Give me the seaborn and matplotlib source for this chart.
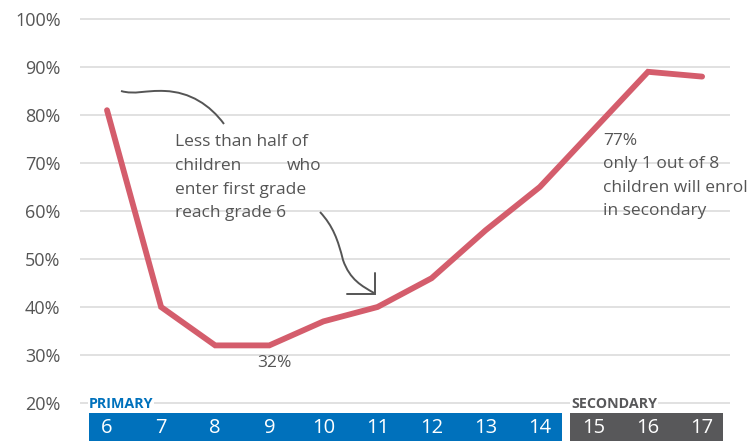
import matplotlib
matplotlib.use("Agg")
import matplotlib.pyplot as plt
import seaborn as sns
import pandas as pd
from matplotlib.path import Path
from matplotlib.patches import PathPatch, Rectangle

# ---- data ----
ages = [6, 7, 8, 9, 10, 11, 12, 13, 14, 15, 16, 17]
rates = [81, 40, 32, 32, 37, 40, 46, 56, 65, 77, 89, 88]
primary_ages = [6, 7, 8, 9, 10, 11, 12, 13, 14]
secondary_ages = [15, 16, 17]
yticks = [20, 30, 40, 50, 60, 70, 80, 90, 100]
ytick_labels = ["20%", "30%", "40%", "50%", "60%", "70%", "80%", "90%", "100%"]

sns.set_theme(style="white")
plt.rcParams['font.family'] = ['Open Sans', 'DejaVu Sans']

W, H = 753, 441
fig = plt.figure(figsize=(W / 100, H / 100), dpi=100)
ax_left, ax_right = 80, 730
ax = fig.add_axes([ax_left / W, 0, (ax_right - ax_left) / W, 1])

# pixel <-> data mapping helpers
X0, DX = 107, 54.1
Y0, DY = 403, 4.8
def px(x):
    return 6 + (x - X0) / DX
def py(y):
    return 20 + (Y0 - y) / DY

ax.set_xlim(px(ax_left), px(ax_right))
ax.set_ylim(py(H), py(0))

# gridlines
for t in yticks:
    ax.axhline(t, color="#dcdcdc", lw=1.2, zorder=0)

df = pd.DataFrame({"age": ages, "rate": rates})
sns.lineplot(data=df, x="age", y="rate", ax=ax, color="#d45d6c", lw=4.2,
             solid_capstyle="round", solid_joinstyle="miter", zorder=3)

ax.set_yticks(yticks)
ax.set_yticklabels(ytick_labels, fontsize=13, color="#555555")
ax.tick_params(axis="y", length=0, pad=14)
ax.set_xticks([])
ax.set_xlabel("")
ax.set_ylabel("")
for s in ax.spines.values():
    s.set_visible(False)

# bands
band_top, band_bot = py(413), py(H)
ax.add_patch(Rectangle((px(89), band_bot), px(562) - px(89), band_top - band_bot,
                       color="#0071bc", lw=0, zorder=2, clip_on=False))
ax.add_patch(Rectangle((px(570), band_bot), px(723) - px(570), band_top - band_bot,
                       color="#58585a", lw=0, zorder=2, clip_on=False))
for a in primary_ages + secondary_ages:
    ax.text(a, py(428), str(a), color="white", fontsize=14.5, ha="center",
            va="center", zorder=4)
ax.text(px(89), py(404), "PRIMARY", color="#0071bc", fontsize=10.3,
        fontweight="bold", ha="left", va="center", zorder=4,
        bbox=dict(facecolor="white", edgecolor="none", pad=0.5))
ax.text(px(571), py(404), "SECONDARY", color="#58585a", fontsize=10.3,
        fontweight="bold", ha="left", va="center", zorder=4,
        bbox=dict(facecolor="white", edgecolor="none", pad=0.5))

# annotations
tc = "#555555"
fs = 12.5
ax.text(px(175), py(142), "Less than half of", color=tc, fontsize=fs, ha="left", va="center")
ax.text(px(175), py(166), "children", color=tc, fontsize=fs, ha="left", va="center")
ax.text(px(321), py(166), "who", color=tc, fontsize=fs, ha="right", va="center")
ax.text(px(175), py(190), "enter first grade", color=tc, fontsize=fs, ha="left", va="center")
ax.text(px(175), py(213), "reach grade 6", color=tc, fontsize=fs, ha="left", va="center")

ax.text(px(603), py(176), "77%\nonly 1 out of 8\nchildren will enrol\nin secondary",
        color=tc, fontsize=fs, ha="left", va="center", linespacing=1.6)
ax.text(px(274), py(363), "32%", color=tc, fontsize=fs, ha="center", va="center")

# curved pointer 1
verts1 = [(px(121), py(91)), (px(135), py(95)), (px(145), py(90)), (px(165), py(91)),
          (px(190), py(92)), (px(210), py(105)), (px(224), py(124))]
codes1 = [Path.MOVETO] + [Path.CURVE4] * 6
ax.add_patch(PathPatch(Path(verts1, codes1), fill=False,
                       edgecolor="#555555", lw=1.4, zorder=4))
# curved pointer 2
verts2 = [(px(320), py(212)), (px(333), py(226)), (px(338), py(240)), (px(343), py(260)),
          (px(350), py(280)), (px(362), py(286)), (px(374), py(293))]
codes2 = [Path.MOVETO] + [Path.CURVE4] * 6
ax.add_patch(PathPatch(Path(verts2, codes2), fill=False,
                       edgecolor="#555555", lw=1.4, zorder=4))
ax.plot([px(347), px(375), px(375)], [py(294), py(294), py(273)],
        color="#555555", lw=1.4, zorder=4, solid_joinstyle="miter")

fig.savefig("out.png", dpi=100)
